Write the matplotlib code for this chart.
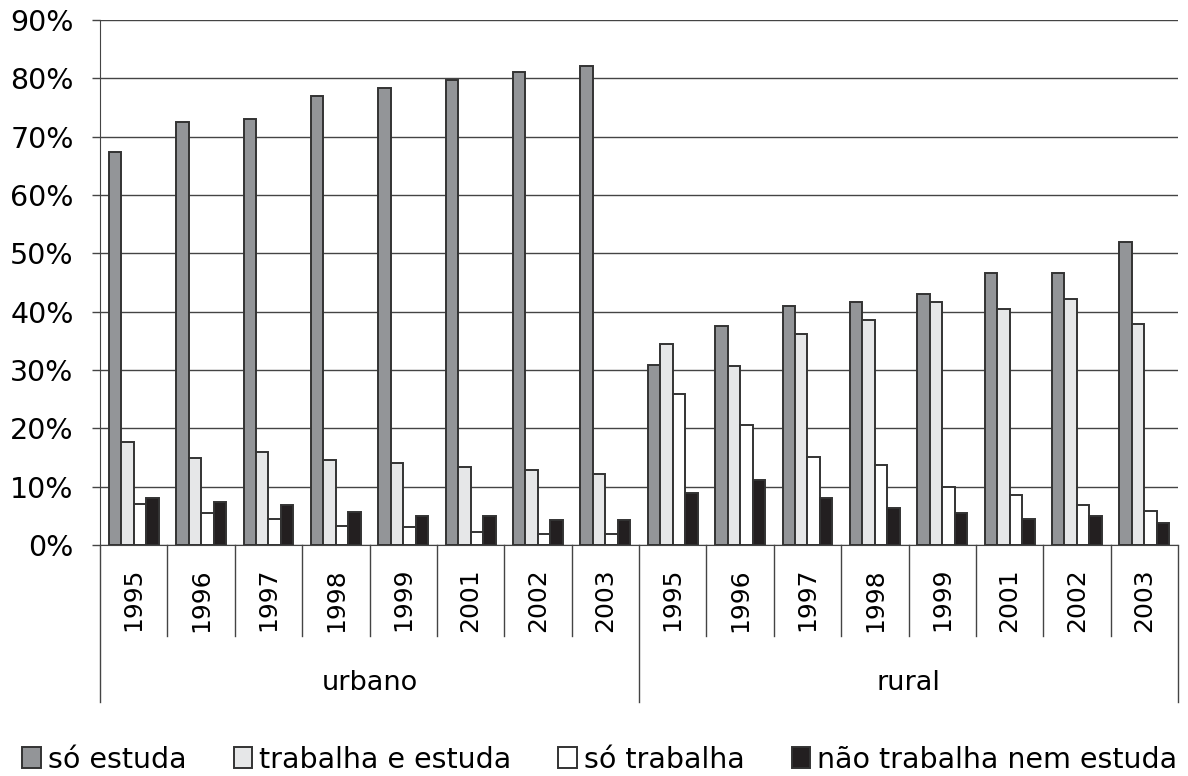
import numpy as np
import matplotlib
matplotlib.use("Agg")
import matplotlib.pyplot as plt

# data (percent)
years = ["1995", "1996", "1997", "1998", "1999", "2001", "2002", "2003"]
groups = ["urbano", "rural"]
series = ["só estuda", "trabalha e estuda", "só trabalha", "não trabalha nem estuda"]

so_estuda = [67.3, 72.6, 73.1, 76.9, 78.3, 79.7, 81.1, 82.1,
             30.9, 37.6, 41.0, 41.7, 43.1, 46.6, 46.6, 52.0]
trabalha_estuda = [17.7, 14.9, 16.0, 14.6, 14.0, 13.4, 12.9, 12.2,
                   34.5, 30.7, 36.2, 38.5, 41.7, 40.5, 42.2, 37.9]
so_trabalha = [7.1, 5.4, 4.5, 3.3, 3.1, 2.2, 1.9, 1.9,
               25.8, 20.6, 15.1, 13.7, 10.0, 8.5, 6.8, 5.9]
nem_nem = [8.0, 7.4, 6.9, 5.7, 4.9, 4.9, 4.3, 4.3,
           8.9, 11.2, 8.0, 6.3, 5.4, 4.5, 4.9, 3.7]

colors = ["#939598", "#e6e7e8", "#ffffff", "#231f20"]
edge = "#333333"

plt.rcParams['font.family'] = ['DejaVu Sans']

fig = plt.figure(figsize=(11.88, 7.76), dpi=100)
ax = fig.add_axes([0.0842, 0.2977, 0.9074, 0.6765])

labels = years * len(groups)
x = np.arange(len(labels))
w = 0.185
values = [so_estuda, trabalha_estuda, so_trabalha, nem_nem]
for i, (vals, c, name) in enumerate(zip(values, colors, series)):
    ax.bar(x + (i - 1.5) * w, vals, width=w, color=c, edgecolor=edge,
           linewidth=1.4, label=name, zorder=3)

ax.set_ylim(0, 90)
ax.set_xlim(-0.5, len(labels) - 0.5)
ax.set_yticks(np.arange(0, 91, 10))
ax.set_yticklabels([f"{v}%" for v in range(0, 91, 10)], fontsize=20.5)
ax.yaxis.grid(True, color="#444444", linewidth=1.0, zorder=0)
ax.tick_params(axis="y", length=6, width=1, color="#444444", pad=13)

ax.set_xticks(x)
ax.set_xticklabels(labels, rotation=90, fontsize=18)
ax.tick_params(axis="x", length=0, pad=16.5)

for s in ["top", "right"]:
    ax.spines[s].set_visible(False)
ax.spines["left"].set_color("#444444")
ax.spines["bottom"].set_color("#444444")

# category separators below the axis
trans = ax.get_xaxis_transform()
for b in np.arange(0.5, len(labels) - 1, 1.0):
    if b == len(years) - 0.5:
        continue
    ax.plot([b, b], [0, -0.173], color="#444444", lw=1, transform=trans, clip_on=False)
for b in [-0.5, len(years) - 0.5, len(labels) - 0.5]:
    ax.plot([b, b], [0, -0.299], color="#444444", lw=1, transform=trans, clip_on=False)

for gi, g in enumerate(groups):
    cx = gi * len(years) + (len(years) - 1) / 2
    ax.text(cx, -0.263, g, transform=trans, ha="center", va="center", fontsize=19.5)

fig.legend(loc="lower center", bbox_to_anchor=(0.505, -0.03), ncol=4, frameon=False,
           fontsize=20.5, handlelength=0.65, handleheight=0.75, handletextpad=0.25,
           columnspacing=1.65)

fig.savefig("out.png", dpi=100)
